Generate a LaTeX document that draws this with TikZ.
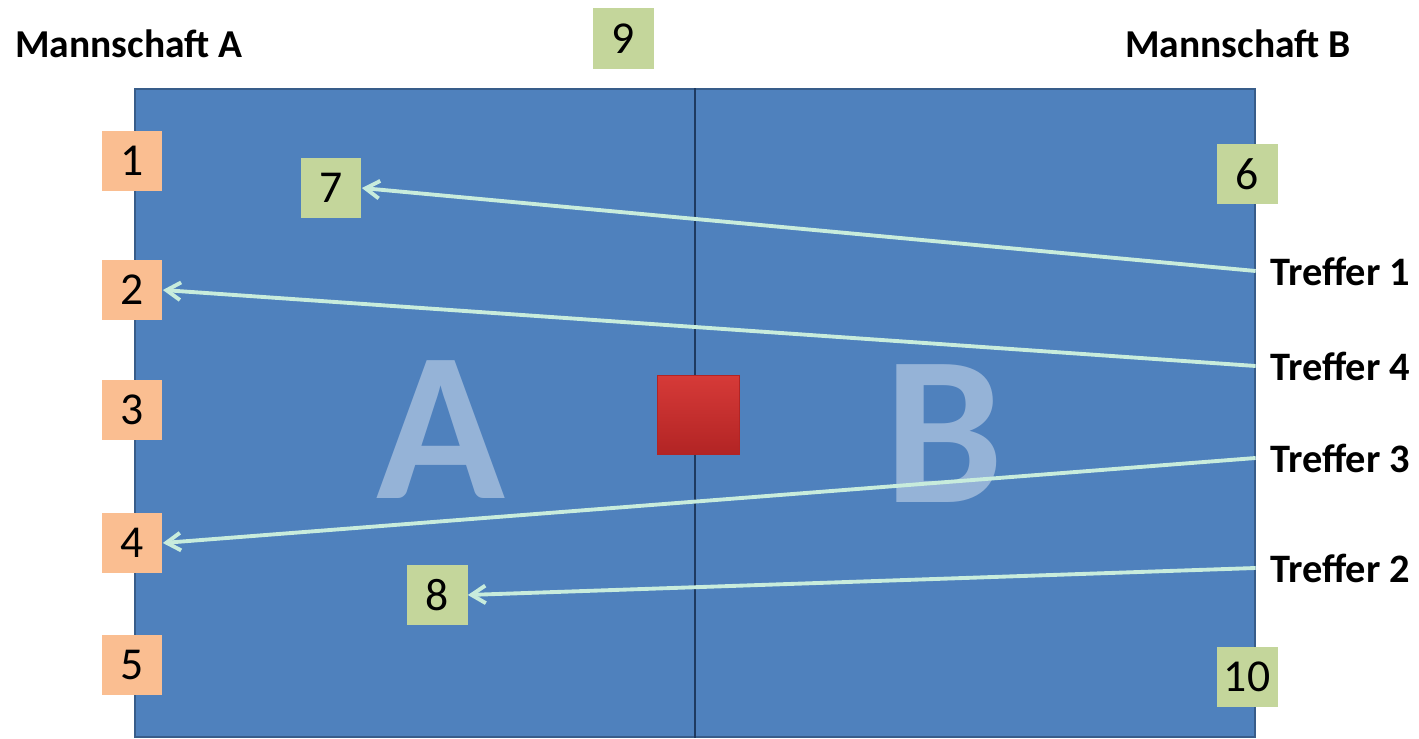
\documentclass[tikz,border=0pt]{standalone}
\usepackage{fontspec}
\setmainfont{Carlito}
\usetikzlibrary{arrows.meta}

\definecolor{feldblau}{RGB}{79,129,189}
\definecolor{feldrand}{RGB}{56,93,138}
\definecolor{mittellinie}{RGB}{30,58,96}
\definecolor{orangebox}{RGB}{250,190,145}
\definecolor{gruenbox}{RGB}{196,214,155}
\definecolor{pfeil}{RGB}{200,236,220}
\definecolor{balloben}{RGB}{214,58,56}
\definecolor{ballunten}{RGB}{178,36,36}

\tikzset{
  feld/.style={draw=feldrand, line width=0.8pt, fill=feldblau, minimum width=22.4cm, minimum height=12.96cm, inner sep=0pt},
  spieler/.style={fill=orangebox, minimum size=1.22cm, inner sep=0pt, font=\fontsize{26}{30}\selectfont},
  ziel/.style={fill=gruenbox, minimum size=1.22cm, inner sep=0pt, font=\fontsize{26}{30}\selectfont},
  titel/.style={inner sep=0pt, font=\fontsize{22.5}{26}\selectfont\bfseries},
  treffer/.style={inner sep=0pt, anchor=west, font=\fontsize{23}{26}\selectfont\bfseries},
  seite/.style={text=white, text opacity=0.4, inner sep=0pt, font=\fontsize{121}{130}\selectfont\bfseries},
  wurf/.style={draw=pfeil, line width=2.2pt, -{Straight Barb[length=8pt, width=10pt]}}
}

\begin{document}
\begin{tikzpicture}[x=0.02cm, y=-0.02cm]
\useasboundingbox (0,0) rectangle (1419,739);

% Spielfeld
\node[feld] (feld) at (695,413) {};
\draw[mittellinie, line width=1.2pt] (feld.north) -- (feld.south);
\node[seite] (sA) at (441,430) {A};
\node[seite] (sB) at (944,434) {B};
\node[minimum width=1.64cm, minimum height=1.58cm, top color=balloben, bottom color=ballunten, draw=ballunten, line width=0.4pt] (ball) at (698,415) {};

% Mannschaften
\node[titel] (mA) at (129,44) {Mannschaft A};
\node[titel] (mB) at (1238,44) {Mannschaft B};

% Spieler von A
\foreach \n/\y in {1/161, 2/290, 3/410, 4/543, 5/665}
  \node[spieler] (n\n) at (132,\y) {\n};

% Ziele
\node[ziel] (n6) at (1247,174) {6};
\node[ziel] (n7) at (331,188) {7};
\node[ziel] (n8) at (437,595) {8};
\node[ziel] (n9) at (623,39) {9};
\node[ziel] (n10) at (1247,677) {10};

% Treffer
\node[treffer] (t1) at (1270,271) {Treffer 1};
\node[treffer] (t4) at (1270,366) {Treffer 4};
\node[treffer] (t3) at (1270,458) {Treffer 3};
\node[treffer] (t2) at (1270,568) {Treffer 2};

\draw[wurf] (feld.east |- t1) -- (n7.east);
\draw[wurf] (feld.east |- t4) -- (n2.east);
\draw[wurf] (feld.east |- t3) -- (n4.east);
\draw[wurf] (feld.east |- t2) -- (n8.east);
\end{tikzpicture}
\end{document}
